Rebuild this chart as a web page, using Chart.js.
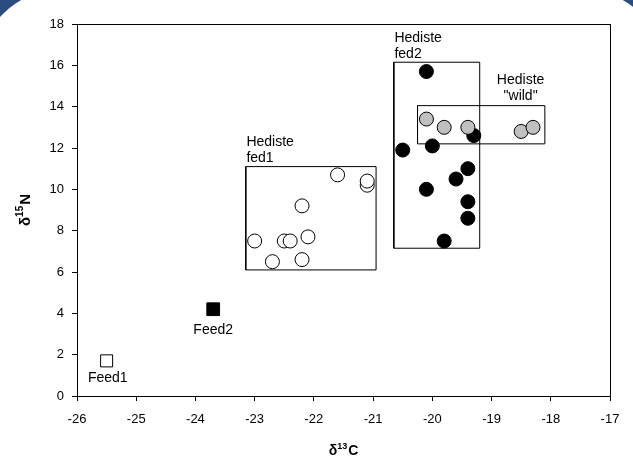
<!DOCTYPE html>
<html><head><meta charset="utf-8">
<script src="https://cdn.jsdelivr.net/npm/chart.js@4.4.0/dist/chart.umd.min.js"></script>
<style>
html,body{margin:0;padding:0;width:633px;height:457px;overflow:hidden;background:#2b4c7e;}
#bg{position:absolute;left:-20px;top:-10px;width:684px;height:520px;background:#fff;border-radius:80px 80px 0 0;}
#wrap{position:absolute;left:0;top:0;width:633px;height:457px;}
</style></head><body>
<div id="bg"></div>
<div id="wrap"><canvas id="c" width="633" height="457"></canvas></div>
<script>
// --- data ---
const fed1X = [-23.0, -22.7, -22.5, -22.4, -22.2, -22.1, -22.2, -21.6, -21.1, -21.1];
const fed1Y = [7.5, 6.5, 7.5, 7.5, 9.2, 7.7, 6.6, 10.7, 10.2, 10.4];
const fed2X = [-20.1, -20.5, -20.0, -19.3, -19.4, -19.6, -20.1, -19.4, -19.4, -19.8];
const fed2Y = [15.7, 11.9, 12.1, 12.6, 11.0, 10.5, 10.0, 9.4, 8.6, 7.5];
const wildX = [-20.1, -19.8, -19.4, -18.5, -18.3];
const wildY = [13.4, 13.0, 13.0, 12.8, 13.0];
const feed1X = [-25.5], feed1Y = [1.7];
const feed2X = [-23.7], feed2Y = [4.2];
// group boxes: [xmin, xmax, ymin, ymax]
const boxFed1 = [-23.15, -20.95, 6.1, 11.1];
const boxFed2 = [-20.65, -19.2, 7.15, 16.15];
const boxWild = [-20.25, -18.1, 12.2, 14.05];
// annotation texts
const noteText  = ['Hediste', 'fed1', 'Hediste', 'fed2', 'Hediste', '"wild"', 'Feed2', 'Feed1'];
const noteX     = [-23.14, -23.14, -20.64, -20.64, -18.51, -18.51, -23.7, -25.48];
const noteY     = [12.27, 11.51, 17.3, 16.55, 15.27, 14.5, 3.18, 0.84];
const noteAlign = ['left', 'left', 'left', 'left', 'center', 'center', 'center', 'center'];
// axis ranges / ticks
const xMin = -26, xMax = -17, xStep = 1;
const yMin = 0, yMax = 18, yStep = 2;

const pts = (xs, ys) => xs.map((x, i) => ({x: x, y: ys[i]}));
const rect = b => [{x:b[0],y:b[2]},{x:b[1],y:b[2]},{x:b[1],y:b[3]},{x:b[0],y:b[3]},{x:b[0],y:b[2]}];
const FONT = '"Liberation Sans", Arial, Helvetica, sans-serif';

const boxDs = b => ({type:'line', data: rect(b), borderColor:'#000', borderWidth:1, pointRadius:0, fill:false, tension:0, showLine:true});

const notes = {
  id: 'notes',
  afterDatasetsDraw(chart) {
    const ctx = chart.ctx, sx = chart.scales.x, sy = chart.scales.y;
    ctx.save();
    ctx.fillStyle = '#000';
    ctx.font = '14px ' + FONT;
    ctx.textBaseline = 'middle';
    noteText.forEach((t, i) => {
      ctx.textAlign = noteAlign[i];
      ctx.fillText(t, sx.getPixelForValue(noteX[i]), sy.getPixelForValue(noteY[i]));
    });
    // axis titles with superscripts
    const a = chart.chartArea;
    const drawSup = (base, sup, tail, cx, cy, bs, ss) => {
      const big = 'bold ' + bs + 'px ' + FONT, small = 'bold ' + ss + 'px ' + FONT;
      ctx.font = big; const w1 = ctx.measureText(base).width, w3 = ctx.measureText(tail).width;
      ctx.font = small; const w2 = ctx.measureText(sup).width;
      let x = cx - (w1 + w2 + w3 + 1) / 2;
      ctx.textAlign = 'left'; ctx.textBaseline = 'alphabetic';
      ctx.font = big; ctx.fillText(base, x, cy); x += w1;
      ctx.font = small; ctx.fillText(sup, x, cy - Math.round(bs * 0.45)); x += w2 + 1;
      ctx.font = big; ctx.fillText(tail, x, cy);
    };
    drawSup('δ', '13', 'C', (a.left + a.right) / 2, 455, 14, 9);
    ctx.save();
    ctx.translate(30, (a.top + a.bottom) / 2);
    ctx.rotate(-Math.PI / 2);
    drawSup('δ', '15', 'N', 0, 0, 15, 10);
    ctx.restore();
    ctx.restore();
  }
};

const tickFont = {family: FONT, size: 13};
new Chart(document.getElementById('c'), {
  type: 'scatter',
  data: {
    datasets: [
      {label:'Hediste "wild"', data: pts(wildX, wildY), backgroundColor:'#c0c0c0', borderColor:'#000', borderWidth:1, pointRadius:7, pointHoverRadius:7},
      {label:'Hediste fed2', data: pts(fed2X, fed2Y), backgroundColor:'#000', borderColor:'#000', borderWidth:1, pointRadius:7, pointHoverRadius:7},
      {label:'Hediste fed1', data: pts(fed1X, fed1Y), backgroundColor:'#fff', borderColor:'#000', borderWidth:1, pointRadius:7, pointHoverRadius:7},
      {label:'Feed2', data: pts(feed2X, feed2Y), pointStyle:'rect', backgroundColor:'#000', borderColor:'#000', borderWidth:1, pointRadius:9, pointHoverRadius:9},
      {label:'Feed1', data: pts(feed1X, feed1Y), pointStyle:'rect', backgroundColor:'#fff', borderColor:'#000', borderWidth:1, pointRadius:8.5, pointHoverRadius:8.5},
      boxDs(boxWild), boxDs(boxFed2), boxDs(boxFed1)
    ]
  },
  options: {
    responsive: false,
    animation: false,
    devicePixelRatio: 1,
    layout: {padding: 0},
    plugins: {legend: {display:false}, tooltip: {enabled:false}},
    scales: {
      x: {
        type:'linear', position:'bottom', min:xMin, max:xMax,
        ticks:{stepSize:xStep, color:'#000', font:tickFont, padding:11, maxRotation:0},
        grid:{display:true, drawOnChartArea:false, drawTicks:true, tickLength:5, color:'#000'},
        border:{display:true, color:'#000', width:1},
        afterFit: s => { s.height = 61; }
      },
      y: {
        type:'linear', position:'left', min:yMin, max:yMax,
        ticks:{stepSize:yStep, color:'#000', font:tickFont, padding:8},
        grid:{display:true, drawOnChartArea:false, drawTicks:true, tickLength:5, color:'#000'},
        border:{display:true, color:'#000', width:1},
        afterFit: s => { s.width = 77; }
      },
      x2: {
        type:'linear', axis:'x', position:'top', min:xMin, max:xMax,
        ticks:{display:false}, grid:{display:false},
        border:{display:true, color:'#000', width:1},
        afterFit: s => { s.height = 24; }
      },
      y2: {
        type:'linear', axis:'y', position:'right', min:yMin, max:yMax,
        ticks:{display:false}, grid:{display:false},
        border:{display:true, color:'#000', width:1},
        afterFit: s => { s.width = 23; }
      }
    }
  },
  plugins: [notes]
});
</script>
</body></html>
